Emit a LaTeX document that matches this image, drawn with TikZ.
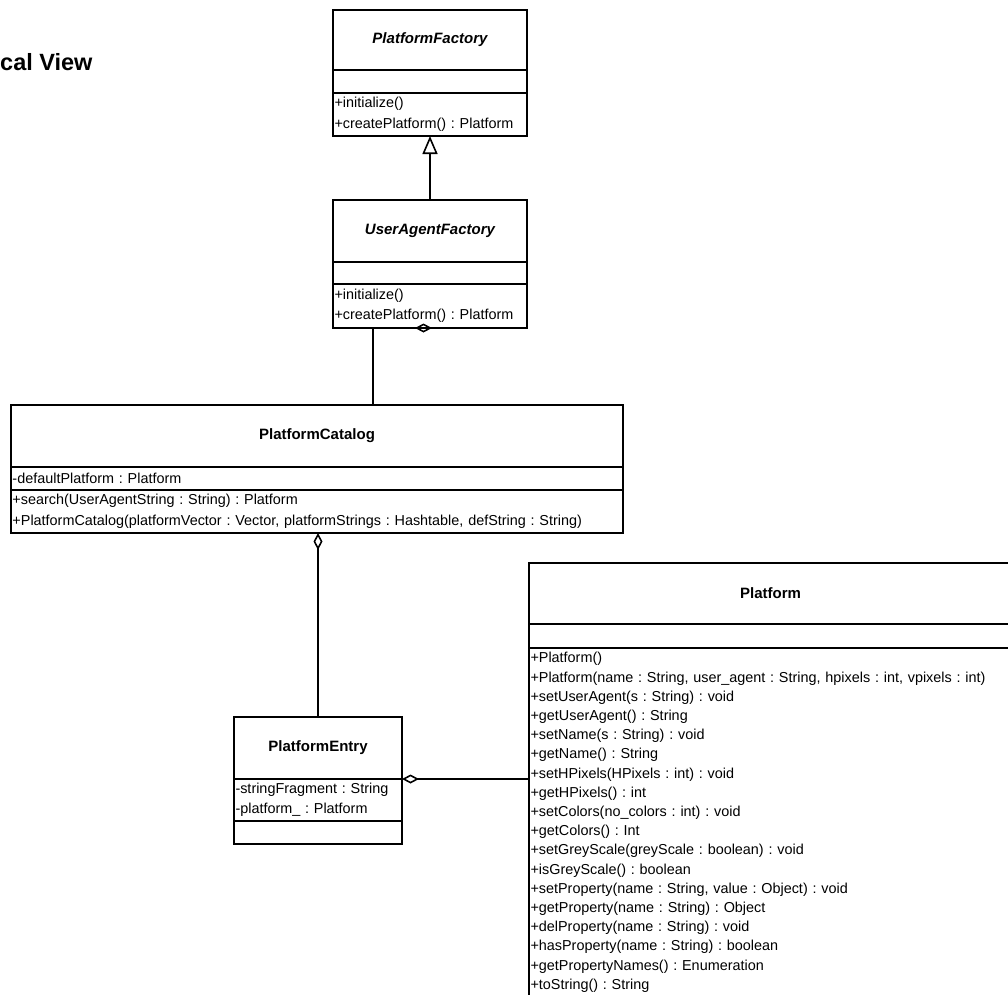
\documentclass[tikz,border=0pt]{standalone}
\usepackage{fontspec}
\setmainfont{Liberation Sans}
\usepackage{tikz}
\usetikzlibrary{arrows.meta, positioning, calc}
\frenchspacing
\newcommand\umlfont{\fontsize{14.4}{20.5}\selectfont}
\newcommand\titlefont{\fontsize{15}{18}\selectfont\bfseries}
\begin{document}
\begin{tikzpicture}[x=1pt, y=-1pt,
  box/.style={draw, line width=1.6pt, outer sep=0pt, inner xsep=1.5pt, inner ysep=2pt, font=\umlfont},
  clsname/.style={box, text width=#1, align=center, font=\titlefont},
  clsbody/.style={box, text width=#1, align=left},
  aggr/.style={line width=1.6pt, {Diamond[open, length=17pt, width=9pt]}-},
  inherit/.style={line width=1.6pt, -{Triangle[open, length=18pt, width=15pt]}}]
\useasboundingbox (0,0) rectangle (1008,994);
\clip (0,0) rectangle (1008,994);

\node[anchor=west, inner sep=0pt, font=\fontsize{23.5}{26}\selectfont\bfseries] (view) at (0,62) {cal View};

% PlatformFactory
\node[clsname=191pt, minimum height=60, anchor=north west, font=\titlefont\itshape] (pfname) at (333,10) {PlatformFactory};
\node[clsbody=191pt, minimum height=23, below=0pt of pfname] (pfattr) {};
\node[clsbody=191pt, minimum height=43, below=0pt of pfattr] (pfops) {+initialize()\\+createPlatform() : Platform};

% UserAgentFactory
\node[clsname=191pt, minimum height=62, anchor=north west, font=\titlefont\itshape] (uafname) at (333,200) {UserAgentFactory};
\node[clsbody=191pt, minimum height=22, below=0pt of uafname] (uafattr) {};
\node[clsbody=191pt, minimum height=44, below=0pt of uafattr] (uafops) {+initialize()\\+createPlatform() : Platform};

% PlatformCatalog
\node[clsname=609pt, minimum height=62, anchor=north west] (pcname) at (11,405) {PlatformCatalog};
\node[clsbody=609pt, minimum height=23, below=0pt of pcname] (pcattr) {-defaultPlatform : Platform};
\node[clsbody=609pt, minimum height=43, below=0pt of pcattr] (pcops) {+search(UserAgentString : String) : Platform\\+PlatformCatalog(platformVector : Vector, platformStrings : Hashtable, defString : String)};

% PlatformEntry
\node[clsname=165pt, minimum height=62, anchor=north west] (pename) at (234,717) {PlatformEntry};
\node[clsbody=165pt, minimum height=42, below=0pt of pename] (peattr) {-stringFragment : String\\-platform\_ : Platform};
\node[clsbody=165pt, minimum height=23, below=0pt of peattr] (peops) {};

% Platform
\node[clsname=480pt, minimum height=61, anchor=north west] (plname) at (529,563) {Platform};
\node[clsbody=480pt, minimum height=24, below=0pt of plname] (plattr) {};
\node[clsbody=480pt, inner ysep=4.5pt, below=0pt of plattr, font=\fontsize{14.4}{19.2}\selectfont] (plops) {+Platform()\\
+Platform(name : String, user\_agent : String, hpixels : int, vpixels : int)\\
+setUserAgent(s : String) : void\\
+getUserAgent() : String\\
+setName(s : String) : void\\
+getName() : String\\
+setHPixels(HPixels : int) : void\\
+getHPixels() : int\\
+setColors(no\_colors : int) : void\\
+getColors() : Int\\
+setGreyScale(greyScale : boolean) : void\\
+isGreyScale() : boolean\\
+setProperty(name : String, value : Object) : void\\
+getProperty(name : String) : Object\\
+delProperty(name : String) : void\\
+hasProperty(name : String) : boolean\\
+getPropertyNames() : Enumeration\\
+toString() : String\rule[-40pt]{0pt}{40pt}};

% connectors
\draw[inherit] (uafname.north) -- (pfops.south);
\coordinate (uafdia) at ($(uafops.south west)+(99,0)$);
\coordinate (bend) at ($(pcname.north west)+(362,0)$);
\coordinate (pcend) at ($(pcname.north west)+(305,0)$);
\draw[aggr] (uafdia) -| (bend) -- (pcend);
\draw[aggr] (pcops.south -| pename.north) -- (pename.north);
\draw[aggr] (peattr.north east) -- (peattr.north east -| plops.west);
\end{tikzpicture}
\end{document}
